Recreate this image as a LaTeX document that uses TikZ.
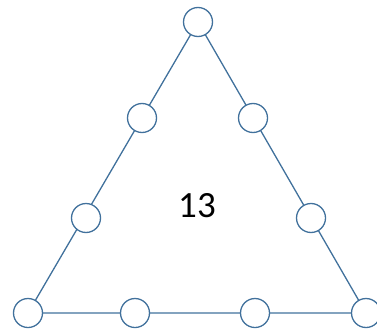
\documentclass[tikz,border=0pt]{standalone}
\usepackage{fontspec}
\setmainfont{Carlito}
\definecolor{edge}{HTML}{41719C}
\begin{document}
\begin{tikzpicture}[x=1pt,y=-1pt,
  dot/.style={circle,draw=edge,fill=white,line width=1.3pt,minimum size=29pt,inner sep=0pt},
  side/.style={draw=edge,line width=1.3pt}]
\useasboundingbox (0,0) rectangle (377,329);
\coordinate (A) at (198,22);
\coordinate (B) at (28,313);
\coordinate (C) at (366,313);
\draw[side] (A) -- (B) -- (C) -- cycle;
\node[dot] (n1) at (A) {};
\node[dot] (n2) at (142,118) {};
\node[dot] (n3) at (86,218) {};
\node[dot] (n4) at (B) {};
\node[dot] (n5) at (135,313) {};
\node[dot] (n6) at (255,313) {};
\node[dot] (n7) at (C) {};
\node[dot] (n8) at (311,218) {};
\node[dot] (n9) at (253,118) {};
\node[font=\fontsize{37}{44}\selectfont] (t) at (197,206) {13};
\end{tikzpicture}
\end{document}
